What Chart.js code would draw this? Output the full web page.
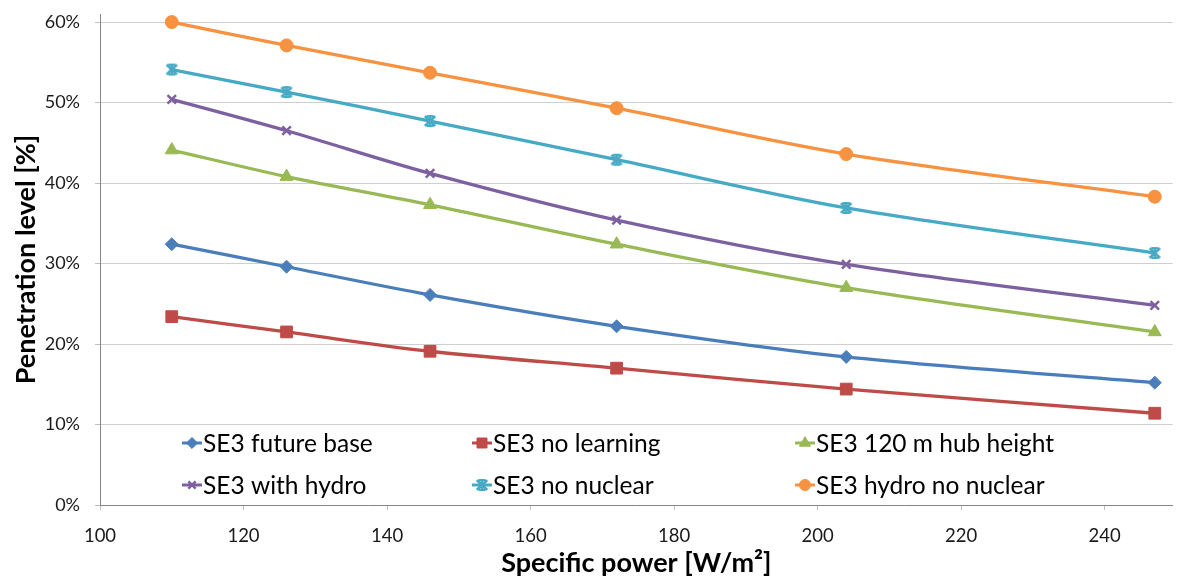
<!DOCTYPE html>
<html>
<head>
<meta charset="utf-8">
<title>Penetration level vs specific power</title>
<script src="https://cdn.jsdelivr.net/npm/chart.js@4.4.1/dist/chart.umd.min.js"></script>
<style>
  html, body { margin: 0; padding: 0; background: #ffffff; }
  #wrap { position: relative; width: 1182px; height: 577px; }
</style>
</head>
<body>
<div id="wrap"><canvas id="chart"></canvas></div>
<script>
// Specific power of the turbine [W/m²]
const specificPower = [110, 126, 146, 172, 204, 247];

// Penetration level [%] per scenario
const futureBase      = [32.4, 29.6, 26.1, 22.2, 18.4, 15.2];
const noLearning      = [23.4, 21.5, 19.1, 17.0, 14.4, 11.4];
const hubHeight120    = [44.1, 40.8, 37.3, 32.4, 27.0, 21.5];
const withHydro       = [50.4, 46.5, 41.2, 35.4, 29.9, 24.8];
const noNuclear       = [54.1, 51.3, 47.7, 42.9, 36.9, 31.3];
const hydroNoNuclear  = [60.0, 57.1, 53.7, 49.3, 43.6, 38.3];

const seriesNames = [
  'SE3 future base', 'SE3 no learning', 'SE3 120 m hub height',
  'SE3 with hydro', 'SE3 no nuclear', 'SE3 hydro no nuclear'
];
const seriesValues = [futureBase, noLearning, hubHeight120, withHydro, noNuclear, hydroNoNuclear];

const yTicks = [0, 10, 20, 30, 40, 50, 60];
const xTicks = [100, 120, 140, 160, 180, 200, 220, 240];

const colors = ['#4A7EBB', '#BE4B48', '#98B954', '#7D60A0', '#46AAC5', '#F69240'];

// Star marker: a bold X crossed by a vertical bar
function makeStar(color) {
  const c = document.createElement('canvas');
  c.width = 14; c.height = 14;
  const g = c.getContext('2d');
  g.strokeStyle = color;
  g.lineCap = 'square';
  g.lineWidth = 3;
  g.beginPath();
  g.moveTo(3, 3); g.lineTo(11, 11);
  g.moveTo(11, 3); g.lineTo(3, 11);
  g.stroke();
  g.lineCap = 'butt';
  g.lineWidth = 2;
  g.beginPath();
  g.moveTo(7, 1); g.lineTo(7, 13);
  g.moveTo(4, 2); g.lineTo(10, 2);
  g.moveTo(4, 12); g.lineTo(10, 12);
  g.stroke();
  return c;
}

const markerStyles = [
  { pointStyle: 'rectRot', radius: 6.5 },
  { pointStyle: 'rect', radius: 8.3 },
  { pointStyle: 'triangle', radius: 7.5 },
  { pointStyle: 'crossRot', radius: 6 },
  { pointStyle: makeStar(colors[4]), radius: 7 },
  { pointStyle: 'circle', radius: 6.5 }
];

const datasets = seriesNames.map((name, i) => ({
  label: name,
  data: specificPower.map((x, k) => ({ x: x, y: seriesValues[i][k] })),
  borderColor: colors[i],
  backgroundColor: colors[i],
  borderWidth: 3.3,
  tension: 0.33,
  pointStyle: markerStyles[i].pointStyle,
  pointRadius: markerStyles[i].radius,
  pointHoverRadius: markerStyles[i].radius,
  pointBorderWidth: i === 3 ? 2.5 : 1,
  pointBackgroundColor: colors[i],
  pointBorderColor: colors[i],
  clip: false
}));

// Legend laid out as a 3 x 2 grid inside the plot area
const gridLegend = {
  id: 'gridLegend',
  afterDraw(chart) {
    const ctx = chart.ctx;
    const colX = [182, 472, 795];
    const rowY = [443, 485];
    ctx.save();
    ctx.font = '24.5px Lato';
    ctx.textBaseline = 'middle';
    ctx.textAlign = 'left';
    chart.data.datasets.forEach((ds, i) => {
      const x = colX[i % 3];
      const y = rowY[Math.floor(i / 3)];
      ctx.strokeStyle = ds.borderColor;
      ctx.lineWidth = 3;
      ctx.beginPath();
      ctx.moveTo(x, y);
      ctx.lineTo(x + 20, y);
      ctx.stroke();
      ctx.fillStyle = ds.borderColor;
      ctx.lineWidth = ds.pointBorderWidth;
      Chart.helpers.drawPoint(ctx, {
        pointStyle: ds.pointStyle,
        radius: ds.pointRadius * 0.85,
        rotation: 0,
        borderWidth: ds.pointBorderWidth
      }, x + 10, y);
      ctx.fillStyle = '#000000';
      ctx.fillText(ds.label, x + 21, y + 1);
    });
    ctx.restore();
  }
};

new Chart(document.getElementById('chart'), {
  type: 'line',
  data: { datasets: datasets },
  plugins: [gridLegend],
  options: {
    responsive: true,
    maintainAspectRatio: false,
    animation: false,
    layout: { padding: { top: 14, right: 0, left: 0, bottom: 0 } },
    plugins: {
      legend: { display: false },
      tooltip: { enabled: false }
    },
    scales: {
      x: {
        type: 'linear',
        min: 100,
        max: 249.5,
        afterBuildTicks(scale) { scale.ticks = xTicks.map(v => ({ value: v })); },
        afterFit(scale) {
          scale.height = 72;
          scale.paddingLeft = 0;
          scale.paddingRight = 0;
        },
        ticks: {
          color: '#1a1a1a',
          font: { family: 'Lato', size: 18.5 },
          padding: 15,
          maxRotation: 0,
          autoSkip: false
        },
        grid: { drawOnChartArea: false, tickColor: '#bfbfbf', tickLength: 5 },
        border: { color: '#868686', width: 1 },
        title: {
          display: true,
          text: 'Specific power [W/m²]',
          color: '#000000',
          font: { family: 'Lato', size: 27, weight: 'bold' },
          padding: { top: 0, bottom: -2 }
        }
      },
      y: {
        type: 'linear',
        min: 0,
        max: 61,
        afterBuildTicks(scale) { scale.ticks = yTicks.map(v => ({ value: v })); },
        afterFit(scale) {
          scale.width = 100;
          scale.paddingTop = 0;
          scale.paddingBottom = 0;
        },
        ticks: {
          color: '#1a1a1a',
          font: { family: 'Lato', size: 18 },
          padding: 15,
          callback: v => v + '%'
        },
        grid: { color: '#cfcfcf', tickColor: '#bfbfbf', tickLength: 5, lineWidth: 1 },
        border: { color: '#868686', width: 1 },
        title: {
          display: true,
          text: 'Penetration level [%]',
          color: '#000000',
          font: { family: 'Lato', size: 27, weight: 'bold' },
          padding: { top: 10, bottom: 0 }
        }
      }
    }
  }
});
</script>
</body>
</html>
